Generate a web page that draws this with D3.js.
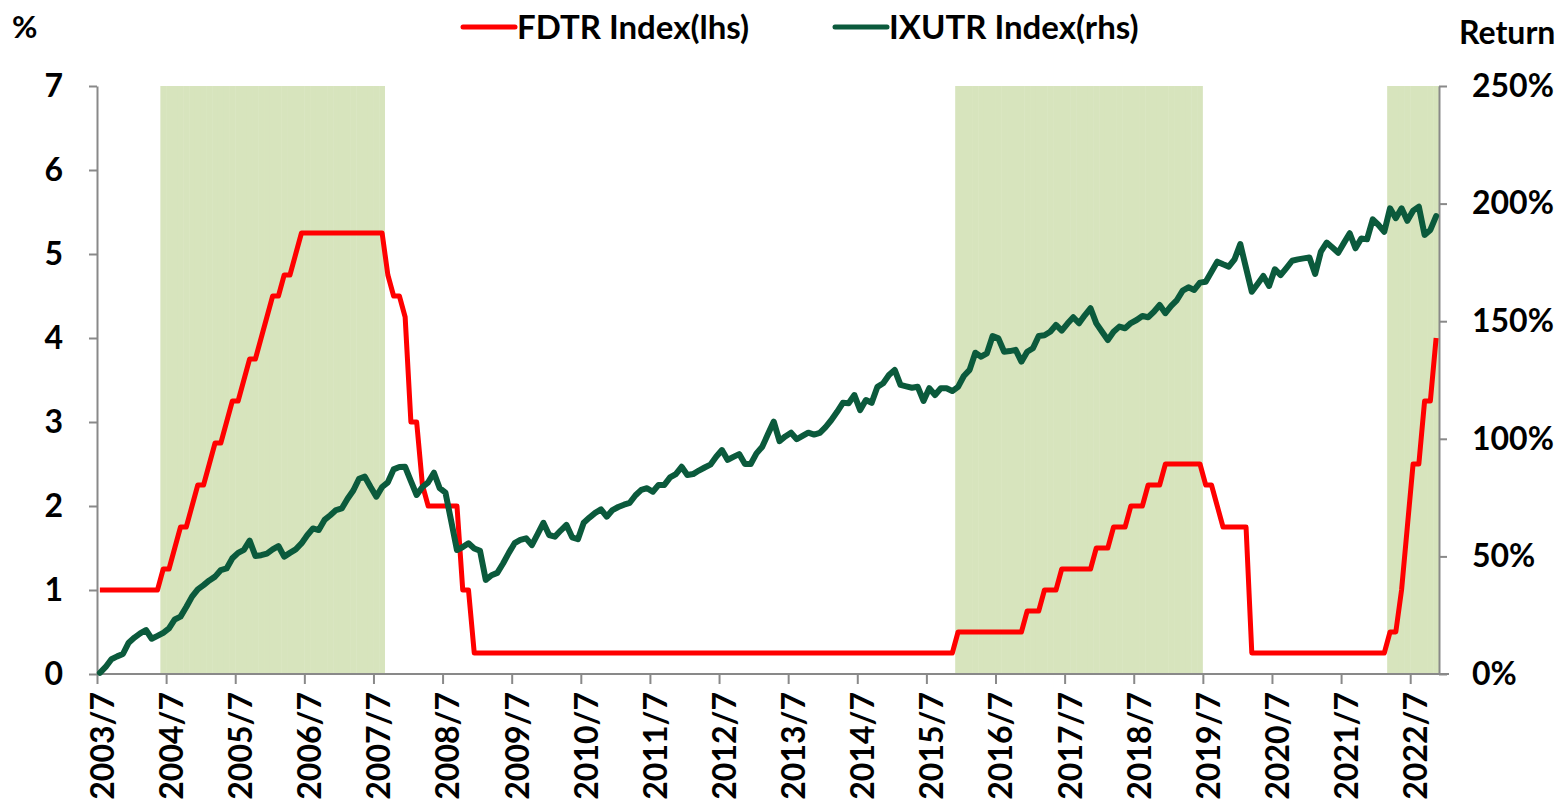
<!DOCTYPE html>
<html>
<head>
<meta charset="utf-8">
<script src="https://cdn.jsdelivr.net/npm/d3@7"></script>
<style>
  body { margin: 0; background: #fff; }
  svg text { font-family: Lato, "Liberation Sans", sans-serif; font-weight: bold; fill: #000; }
</style>
</head>
<body>
<div id="chart"></div>
<script>
// monthly categories, 2003/7 .. 2022/11
const months = d3.timeMonth.range(new Date(2003, 6, 1), new Date(2022, 11, 1)).map(d3.timeFormat('%Y/%-m'));

const tickLabels = ['2003/7', '2004/7', '2005/7', '2006/7', '2007/7', '2008/7', '2009/7', '2010/7', '2011/7', '2012/7',
    '2013/7', '2014/7', '2015/7', '2016/7', '2017/7', '2018/7', '2019/7', '2020/7', '2021/7', '2022/7'];

// Fed funds target rate (%), month end
const fdtr = [
    1, 1, 1, 1, 1, 1, 1, 1, 1, 1, 1, 1.25, 1.25, 1.5, 1.75, 1.75, 2, 2.25, 2.25, 2.5,
    2.75, 2.75, 3, 3.25, 3.25, 3.5, 3.75, 3.75, 4, 4.25, 4.5, 4.5, 4.75, 4.75, 5, 5.25, 5.25, 5.25, 5.25, 5.25,
    5.25, 5.25, 5.25, 5.25, 5.25, 5.25, 5.25, 5.25, 5.25, 5.25, 4.75, 4.5, 4.5, 4.25, 3, 3, 2.25, 2, 2, 2,
    2, 2, 2, 1, 1, 0.25, 0.25, 0.25, 0.25, 0.25, 0.25, 0.25, 0.25, 0.25, 0.25, 0.25, 0.25, 0.25, 0.25, 0.25,
    0.25, 0.25, 0.25, 0.25, 0.25, 0.25, 0.25, 0.25, 0.25, 0.25, 0.25, 0.25, 0.25, 0.25, 0.25, 0.25, 0.25, 0.25, 0.25, 0.25,
    0.25, 0.25, 0.25, 0.25, 0.25, 0.25, 0.25, 0.25, 0.25, 0.25, 0.25, 0.25, 0.25, 0.25, 0.25, 0.25, 0.25, 0.25, 0.25, 0.25,
    0.25, 0.25, 0.25, 0.25, 0.25, 0.25, 0.25, 0.25, 0.25, 0.25, 0.25, 0.25, 0.25, 0.25, 0.25, 0.25, 0.25, 0.25, 0.25, 0.25,
    0.25, 0.25, 0.25, 0.25, 0.25, 0.25, 0.25, 0.25, 0.25, 0.5, 0.5, 0.5, 0.5, 0.5, 0.5, 0.5, 0.5, 0.5, 0.5, 0.5,
    0.5, 0.75, 0.75, 0.75, 1, 1, 1, 1.25, 1.25, 1.25, 1.25, 1.25, 1.25, 1.5, 1.5, 1.5, 1.75, 1.75, 1.75, 2,
    2, 2, 2.25, 2.25, 2.25, 2.5, 2.5, 2.5, 2.5, 2.5, 2.5, 2.5, 2.25, 2.25, 2, 1.75, 1.75, 1.75, 1.75, 1.75,
    0.25, 0.25, 0.25, 0.25, 0.25, 0.25, 0.25, 0.25, 0.25, 0.25, 0.25, 0.25, 0.25, 0.25, 0.25, 0.25, 0.25, 0.25, 0.25, 0.25,
    0.25, 0.25, 0.25, 0.25, 0.5, 0.5, 1, 1.75, 2.5, 2.5, 3.25, 3.25, 4
];

// IXUTR cumulative return (%) since 2003/7
const ixutr = [
    0.5, 3, 6.3, 7.5, 8.5, 13.3, 15.5, 17.3, 18.7, 15, 16.2, 17.5, 19.4, 23.2, 24.4, 28.5, 32.9, 36, 37.8, 39.8,
    41.4, 44.2, 44.9, 49.2, 51.5, 52.8, 56.7, 50.2, 50.5, 51.2, 53, 54.4, 49.9, 51.5, 53, 55.5, 59, 61.9, 61.2, 65.5,
    67.5, 69.7, 70.4, 74.5, 78, 83, 83.9, 79.5, 75.4, 79.5, 81.5, 87, 88, 88.1, 82, 76.1, 79.5, 81.5, 85.6, 79,
    77.1, 65, 52.7, 54, 55.6, 53.4, 52.4, 40, 42, 43, 47, 51.5, 55.6, 57, 57.7, 54.8, 59.5, 64.3, 59.1, 58.4,
    61, 63.4, 58.1, 57.3, 64.3, 66.5, 68.5, 70, 66.9, 69.7, 71, 72, 72.8, 76, 78.3, 79, 77.5, 80.4, 80.4, 83.6,
    85, 88.1, 84.6, 85, 86.5, 87.8, 89, 92.4, 95.2, 91, 92.3, 93.5, 89.3, 89.3, 93.8, 96.6, 102, 107.3, 99, 101,
    102.6, 99.8, 101.2, 102.6, 101.8, 102.5, 105, 108, 111.5, 115.3, 115.1, 118.6, 112.2, 116.5, 115.3, 122.1, 123.6, 127.1, 129.3, 122.9,
    122.3, 121.7, 122.1, 116.1, 121.5, 118.6, 121.5, 121.5, 120.3, 122.1, 126.7, 129.3, 136.6, 134.9, 136.3, 143.7, 142.7, 137, 137.3, 137.8,
    132.8, 137, 138.5, 143.7, 144, 145.5, 148.4, 146, 149, 151.7, 149.1, 152.5, 155.5, 149.1, 145.5, 142, 145.5, 147.7, 147, 149.2,
    150.5, 152.2, 151.7, 154, 156.9, 153.4, 156.5, 159, 163, 164.4, 163.3, 166.4, 166.8, 171, 175.3, 174.2, 173.2, 176.3, 182.8, 172.6,
    162.5, 165.8, 169.2, 165, 172.1, 169.6, 172.6, 175.7, 176.3, 176.7, 177.1, 170.1, 179.6, 183.4, 181.3, 179.1, 183.3, 187.4, 181, 185.2,
    184.8, 193.3, 190.9, 188, 198, 193.8, 198, 192.7, 197, 198.7, 186.7, 188.8, 194.7
];

// rate hiking cycles (shaded)
const hikePeriods = [['2004/6', '2007/8'], ['2015/12', '2019/6'], ['2022/3', '2022/11']];

const width = 1563, height = 800;
const plotLeft = 97, plotRight = 1439, plotTop = 86, plotBottom = 674;

const svg = d3.select('#chart').append('svg')
    .attr('width', width)
    .attr('height', height);

const x = d3.scaleBand().domain(months).range([plotLeft, plotRight]).padding(0);
const xc = m => x(m) + x.bandwidth() / 2;
const yL = d3.scaleLinear().domain([0, 7]).range([plotBottom, plotTop]);
const yR = d3.scaleLinear().domain([0, 250]).range([plotBottom, plotTop]);

// shaded months, one column each like the original column series
const inHike = m => hikePeriods.some(([a, b]) => months.indexOf(m) >= months.indexOf(a) && months.indexOf(m) <= months.indexOf(b));
const isLast = m => hikePeriods.some(p => p[1] === m);
svg.append('g')
    .selectAll('rect')
    .data(months.filter(inHike))
    .join('rect')
    .attr('x', d => x(d))
    .attr('width', d => x.bandwidth() + (isLast(d) ? 0 : 0.45)) // small overlap, faint seams only
    .attr('y', plotTop)
    .attr('height', plotBottom - plotTop)
    .attr('fill', '#d7e4bd');

// axes
const axisColor = '#898989';
const gL = svg.append('g')
    .attr('transform', `translate(${plotLeft},0)`)
    .call(d3.axisLeft(yL).ticks(7).tickSize(8).tickPadding(26).tickSizeOuter(0));
const gR = svg.append('g')
    .attr('transform', `translate(${plotRight},0)`)
    .call(d3.axisRight(yR).tickValues([0, 50, 100, 150, 200, 250]).tickFormat(d => d + '%').tickSize(8).tickPadding(25).tickSizeOuter(0));

const xi = d3.scaleLinear().domain([0, months.length]).range([plotLeft, plotRight]);
const gB = svg.append('g')
    .attr('transform', `translate(0,${plotBottom})`)
    .call(d3.axisBottom(xi).tickValues(tickLabels.map(t => months.indexOf(t))).tickFormat(i => months[i]).tickSize(10).tickSizeOuter(0));
gB.selectAll('.tick text')
    .attr('transform', `translate(${x.bandwidth() / 2 + 2},0) rotate(-90)`)
    .attr('text-anchor', 'end')
    .attr('x', -18)
    .attr('y', 0)
    .attr('dy', '0.36em');

[gL, gR, gB].forEach(g => {
    g.selectAll('path, line').attr('stroke', axisColor).attr('stroke-width', 2);
    g.selectAll('text').style('font-size', '32px').attr('fill', '#000');
});
gB.select('.domain').attr('d', `M${plotLeft},0H${plotRight + 10}`);

// lines
const lineL = d3.line().x((d, i) => xc(months[i])).y(d => yL(d));
const lineR = d3.line().x((d, i) => xc(months[i])).y(d => yR(d));

svg.append('path')
    .datum(fdtr)
    .attr('d', lineL)
    .attr('fill', 'none')
    .attr('stroke', '#ff0000')
    .attr('stroke-width', 5)
    .attr('stroke-linejoin', 'round');

svg.append('path')
    .datum(ixutr)
    .attr('d', lineR)
    .attr('fill', 'none')
    .attr('stroke', '#0b5a3c')
    .attr('stroke-width', 6)
    .attr('stroke-linejoin', 'round')
    .attr('stroke-linecap', 'round');

// axis titles
svg.append('text').attr('x', 12).attr('y', 27).attr('dy', '0.36em').style('font-size', '31px').text('%');
svg.append('text').attr('x', 1459).attr('y', 32).attr('dy', '0.36em').style('font-size', '32px').text('Return');

// legend
const legend = [
    { label: 'FDTR Index(lhs)', color: '#ff0000', x: 463 },
    { label: 'IXUTR Index(rhs)', color: '#0b5a3c', x: 835 }
];
const lg = svg.append('g')
    .selectAll('g')
    .data(legend)
    .join('g')
    .attr('transform', d => `translate(${d.x},27)`);
lg.append('line')
    .attr('x1', 0).attr('x2', 52)
    .attr('stroke', d => d.color)
    .attr('stroke-width', 5)
    .attr('stroke-linecap', 'round');
lg.append('text')
    .attr('x', 54)
    .attr('dy', '0.36em')
    .style('font-size', '33px')
    .text(d => d.label);
</script>
</body>
</html>
